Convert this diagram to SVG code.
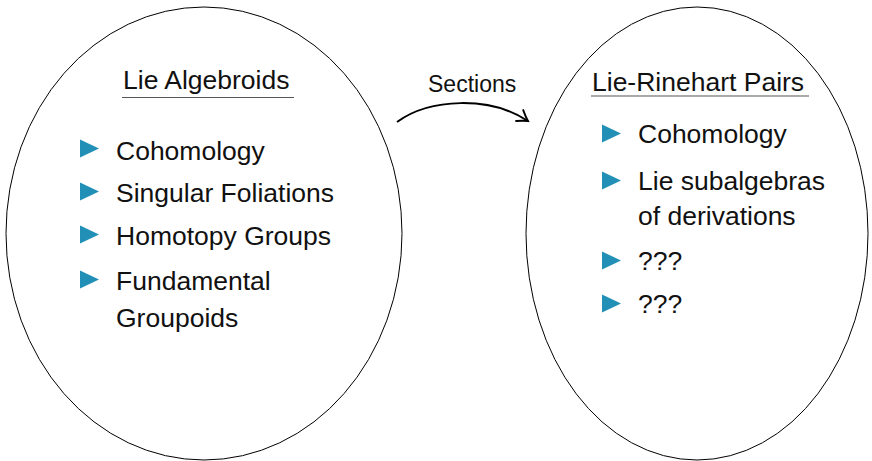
<svg xmlns="http://www.w3.org/2000/svg" width="872" height="461" viewBox="0 0 872 461">
  <style>
    .ell { fill: none; stroke: #000; stroke-width: 1; }
    .txt { font-family: "Liberation Sans", Arial, sans-serif; font-size: 26.5px; fill: #111; }
    .lbl { font-family: "Liberation Sans", Arial, sans-serif; font-size: 23px; fill: #111; }
    .ul { stroke: #555; stroke-width: 1.2; }
    .bul { fill: #2290B6; }
    .conn { fill: none; stroke: #000; stroke-width: 2; }
  </style>
  <defs>
    <path id="tri" d="M0,-9 L19,0 L0,9 Z"/>
    <marker id="arr" viewBox="-12 -8 14 16" markerWidth="14" markerHeight="16" refX="0" refY="0" orient="auto" markerUnits="userSpaceOnUse">
      <path d="M-10,-6.5 Q-4,-2 0,0 Q-4,2 -10,6.5" fill="none" stroke="#000" stroke-width="1.9" stroke-linecap="round"/>
    </marker>
  </defs>
  <rect width="872" height="461" fill="#fff"/>

  <g id="lie-algebroids">
    <ellipse class="ell" cx="204" cy="233.5" rx="198" ry="226.5"/>
    <text class="txt" x="123" y="89">Lie Algebroids</text>
    <line class="ul" x1="122" y1="97.5" x2="294" y2="97.5"/>
    <use href="#tri" class="bul" x="80" y="148.5"/>
    <text class="txt" x="116" y="160">Cohomology</text>
    <use href="#tri" class="bul" x="80" y="191.5"/>
    <text class="txt" x="116" y="202">Singular Foliations</text>
    <use href="#tri" class="bul" x="80" y="234.5"/>
    <text class="txt" x="116" y="245">Homotopy Groups</text>
    <use href="#tri" class="bul" x="80" y="279.5"/>
    <text class="txt" x="116" y="290">Fundamental</text>
    <text class="txt" x="116" y="327">Groupoids</text>
  </g>

  <g id="lie-rinehart-pairs">
    <ellipse class="ell" cx="697" cy="233.5" rx="171" ry="226.5"/>
    <text class="txt" x="592" y="91">Lie-Rinehart Pairs</text>
    <line class="ul" x1="591" y1="96" x2="809" y2="96"/>
    <use href="#tri" class="bul" x="602" y="133.5"/>
    <text class="txt" x="638" y="143">Cohomology</text>
    <use href="#tri" class="bul" x="602" y="180.5"/>
    <text class="txt" x="638" y="190">Lie subalgebras</text>
    <text class="txt" x="638" y="225">of derivations</text>
    <use href="#tri" class="bul" x="602" y="260.5"/>
    <text class="txt" x="638" y="270">???</text>
    <use href="#tri" class="bul" x="602" y="303.5"/>
    <text class="txt" x="638" y="313">???</text>
  </g>

  <g id="connectors">
    <path class="conn" d="M397,122 C430,98 490,96 528,121" marker-end="url(#arr)"/>
    <text class="lbl" x="428" y="92">Sections</text>
  </g>
</svg>
